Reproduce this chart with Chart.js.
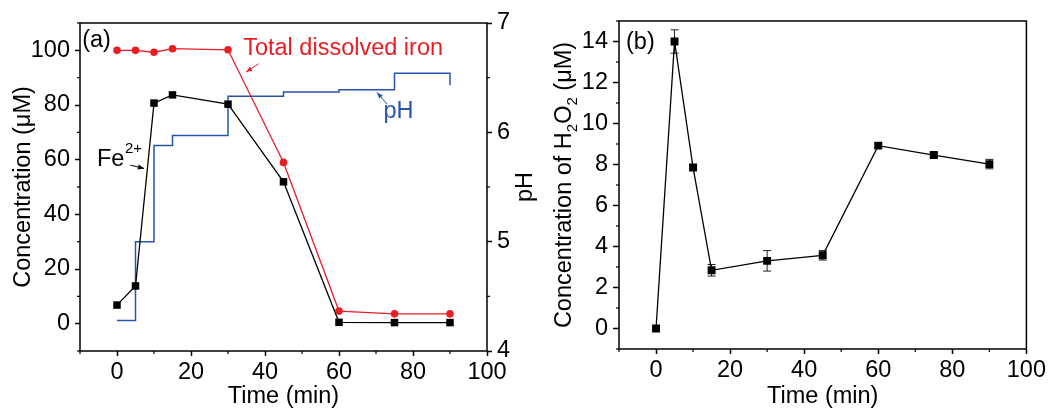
<!DOCTYPE html>
<html><head><meta charset="utf-8">
<script src="https://cdn.jsdelivr.net/npm/chart.js@4/dist/chart.umd.min.js"></script>
<style>
html,body{margin:0;padding:0;background:#fff;}
#wrap{position:relative;width:1048px;height:408px;overflow:hidden;}
#c1{position:absolute;left:0;top:0;}
#c2{position:absolute;left:540px;top:0;}
</style></head><body>
<div id="wrap"><canvas id="c1" width="540" height="408"></canvas><canvas id="c2" width="508" height="408"></canvas></div>
<script>
const FONT = '"Liberation Sans", Arial, sans-serif';
const FS = 23.5;

// ---- data ----
const times = [0, 5, 10, 15, 30, 45, 60, 75, 90];
const fe2 = [6.8, 13.8, 80.7, 83.7, 80.3, 51.9, 0.5, 0.4, 0.4];
const totalFe = [100, 100, 99.3, 100.6, 100.2, 59.0, 4.6, 3.6, 3.6];
const pH = [4.28, 5.0, 5.88, 5.97, 6.33, 6.37, 6.39, 6.54, 6.43];
const h2o2 = [0, 14.0, 7.85, 2.84, 3.3, 3.57, 8.92, 8.46, 8.02];
const h2o2Err = [0.05, 0.57, 0.12, 0.28, 0.5, 0.23, 0.1, 0.1, 0.23];

// ---- tick values ----
const xTicks = [0, 20, 40, 60, 80, 100];
const xMinor = [-10, 10, 30, 50, 70, 90];
const concTicks = [0, 20, 40, 60, 80, 100];
const concMinor = [-10, 10, 30, 50, 70, 90, 110];
const pHTicks = [4, 5, 6, 7];
const pHMinor = [4.5, 5.5, 6.5];
const h2o2Ticks = [0, 2, 4, 6, 8, 10, 12, 14];
const h2o2Minor = [-1, 1, 3, 5, 7, 9, 11, 13, 15];

const RED = 'rgb(232,30,36)';
const BLUE = 'rgb(40,84,172)';

function pts(xs, ys) { return xs.map((x, i) => ({x: x, y: ys[i]})); }
function setTicks(arr) { return s => { s.ticks = arr.map(v => ({value: v})); }; }

function axisX(title, pad) {
  return {
    type: 'linear', min: -10, max: 100, bounds: 'data',
    afterBuildTicks: setTicks(xTicks),
    afterFit: s => { s.height = pad; },
    ticks: {font: {family: FONT, size: FS}, color: '#000', padding: 2, maxRotation: 0, autoSkip: false},
    grid: {drawOnChartArea: false, drawTicks: true, tickLength: 5, tickColor: '#000', tickWidth: 1.5},
    border: {display: false},
    title: {display: true, text: title, color: '#000', font: {family: FONT, size: FS, lineHeight: 1}, padding: {top: 0, bottom: 0}}
  };
}

// frame + minor ticks
const framePlugin = {
  id: 'frame',
  afterDraw(chart, args, opts) {
    const ctx = chart.ctx, a = chart.chartArea;
    ctx.save();
    ctx.strokeStyle = '#000';
    ctx.lineWidth = 1.5;
    ctx.strokeRect(a.left, a.top, a.right - a.left, a.bottom - a.top);
    ctx.lineWidth = 1.2;
    const minor = opts.minor || {};
    Object.keys(minor).forEach(id => {
      const s = chart.scales[id];
      minor[id].forEach(v => {
        const p = s.getPixelForValue(v);
        ctx.beginPath();
        if (s.isHorizontal()) { ctx.moveTo(p, a.bottom); ctx.lineTo(p, a.bottom + 3); }
        else if (s.position === 'left') { ctx.moveTo(a.left, p); ctx.lineTo(a.left - 3, p); }
        else { ctx.moveTo(a.right, p); ctx.lineTo(a.right + 3, p); }
        ctx.stroke();
      });
    });
    ctx.restore();
  }
};

function arrow(ctx, x1, y1, x2, y2, color) {
  ctx.save();
  ctx.strokeStyle = color; ctx.fillStyle = color; ctx.lineWidth = 1;
  ctx.beginPath(); ctx.moveTo(x1, y1); ctx.lineTo(x2, y2); ctx.stroke();
  const ang = Math.atan2(y2 - y1, x2 - x1), L = 6, W = 2.5;
  ctx.beginPath();
  ctx.moveTo(x2, y2);
  ctx.lineTo(x2 - L * Math.cos(ang) + W * Math.sin(ang), y2 - L * Math.sin(ang) - W * Math.cos(ang));
  ctx.lineTo(x2 - L * Math.cos(ang) - W * Math.sin(ang), y2 - L * Math.sin(ang) + W * Math.cos(ang));
  ctx.closePath(); ctx.fill();
  ctx.restore();
}

const annotPlugin1 = {
  id: 'annot1',
  afterDraw(chart) {
    const ctx = chart.ctx, X = chart.scales.x, Y = chart.scales.y, Y1 = chart.scales.y1;
    const px = v => X.getPixelForValue(v), py = v => Y.getPixelForValue(v);
    ctx.save();
    ctx.textBaseline = 'middle'; ctx.textAlign = 'left';
    ctx.font = FS + 'px ' + FONT;
    ctx.fillStyle = '#000';
    ctx.fillText('(a)', px(-9.4), py(103.5));
    ctx.fillStyle = RED;
    ctx.fillText('Total dissolved iron', px(34.1), py(100.5));
    arrow(ctx, px(38.3), py(95.1), px(34.9), py(92.1), RED);
    ctx.fillStyle = BLUE;
    ctx.fillText('pH', px(72.0), py(77.7));
    arrow(ctx, px(73.0), py(80.3), px(70.3), py(84.6), BLUE);
    ctx.fillStyle = '#000';
    ctx.fillText('Fe', px(-5.4), py(60.2));
    const w = ctx.measureText('Fe').width;
    ctx.font = '15px ' + FONT;
    ctx.fillText('2+', px(-5.4) + w + 0.5, py(60.2) - 10);
    arrow(ctx, px(3.6), py(58.0), px(7.3), py(56.8), '#000');
    // right axis title (reads bottom to top)
    ctx.font = FS + 'px ' + FONT;
    ctx.textAlign = 'center';
    ctx.translate(chart.chartArea.right + 39, (chart.chartArea.top + chart.chartArea.bottom) / 2);
    ctx.rotate(-Math.PI / 2);
    ctx.fillText('pH', 0, 0);
    ctx.restore();
  }
};

const errPlugin = {
  id: 'errbars',
  beforeDatasetsDraw(chart) {
    const ctx = chart.ctx, X = chart.scales.x, Y = chart.scales.y;
    ctx.save();
    ctx.strokeStyle = '#222'; ctx.lineWidth = 1;
    times.forEach((t, i) => {
      const x = X.getPixelForValue(t);
      const y1 = Y.getPixelForValue(h2o2[i] + h2o2Err[i]);
      const y2 = Y.getPixelForValue(h2o2[i] - h2o2Err[i]);
      ctx.beginPath();
      ctx.moveTo(x, y1); ctx.lineTo(x, y2);
      ctx.moveTo(x - 4, y1); ctx.lineTo(x + 4, y1);
      ctx.moveTo(x - 4, y2); ctx.lineTo(x + 4, y2);
      ctx.stroke();
    });
    ctx.restore();
  }
};

const annotPlugin2 = {
  id: 'annot2',
  afterDraw(chart) {
    const ctx = chart.ctx, X = chart.scales.x, Y = chart.scales.y, a = chart.chartArea;
    ctx.save();
    ctx.fillStyle = '#000';
    ctx.textBaseline = 'middle'; ctx.textAlign = 'left';
    ctx.font = FS + 'px ' + FONT;
    ctx.fillText('(b)', X.getPixelForValue(-8.1), Y.getPixelForValue(13.93));
    // y title with subscripts
    const parts = [['Concentration of H', false], ['2', true], ['O', false], ['2', true], [' (μM)', false]];
    const big = FS + 'px ' + FONT, small = '15px ' + FONT;
    let total = 0;
    parts.forEach(p => { ctx.font = p[1] ? small : big; total += ctx.measureText(p[0]).width; });
    ctx.translate(31, (a.top + a.bottom) / 2);
    ctx.rotate(-Math.PI / 2);
    ctx.textBaseline = 'alphabetic';
    let x = -total / 2;
    parts.forEach(p => {
      ctx.font = p[1] ? small : big;
      ctx.fillText(p[0], x, p[1] ? 6 : 0);
      x += ctx.measureText(p[0]).width;
    });
    ctx.restore();
  }
};

Chart.defaults.animation = false;
Chart.defaults.devicePixelRatio = 1;

new Chart(document.getElementById('c1'), {
  type: 'line',
  data: {
    datasets: [
      {label: 'pH', data: pts(times, pH), yAxisID: 'y1', stepped: 'before', borderColor: BLUE, borderWidth: 1.5, pointRadius: 0, fill: false, order: 3},
      {label: 'Fe2+', data: pts(times, fe2), yAxisID: 'y', borderColor: '#000', backgroundColor: '#000', borderWidth: 1.3, pointStyle: 'rect', pointRadius: 5.3, pointBorderWidth: 0, fill: false, order: 2},
      {label: 'Total dissolved iron', data: pts(times, totalFe), yAxisID: 'y', borderColor: RED, backgroundColor: RED, borderWidth: 1.3, pointStyle: 'circle', pointRadius: 3.8, pointBorderWidth: 0, fill: false, order: 1}
    ]
  },
  options: {
    responsive: false, animation: false,
    layout: {padding: {top: 23, left: 0, right: 0, bottom: 0}},
    plugins: {legend: {display: false}, tooltip: {enabled: false}, frame: {minor: {x: xMinor, y: concMinor, y1: pHMinor}}},
    scales: {
      x: axisX('Time (min)', 57),
      y: {
        type: 'linear', position: 'left', min: -10, max: 110, bounds: 'data',
        afterBuildTicks: setTicks(concTicks),
        afterFit: s => { s.width = 80; },
        ticks: {font: {family: FONT, size: FS}, color: '#000', padding: 5},
        grid: {drawOnChartArea: false, drawTicks: true, tickLength: 5, tickColor: '#000', tickWidth: 1.5},
        border: {display: false},
        title: {display: true, text: 'Concentration (μM)', color: '#000', font: {family: FONT, size: FS, lineHeight: 1}, padding: {top: 12, bottom: 0}}
      },
      y1: {
        type: 'linear', position: 'right', min: 4, max: 7, bounds: 'data',
        afterBuildTicks: setTicks(pHTicks),
        afterFit: s => { s.width = 53; },
        ticks: {font: {family: FONT, size: FS}, color: '#000', padding: 5},
        grid: {drawOnChartArea: false, drawTicks: true, tickLength: 5, tickColor: '#000', tickWidth: 1.5},
        border: {display: false},
        title: {display: false}
      }
    }
  },
  plugins: [framePlugin, annotPlugin1]
});

new Chart(document.getElementById('c2'), {
  type: 'line',
  data: {
    datasets: [
      {label: 'H2O2', data: pts(times, h2o2), borderColor: '#000', backgroundColor: '#000', borderWidth: 1.3, pointStyle: 'rect', pointRadius: 5.6, pointBorderWidth: 0, fill: false}
    ]
  },
  options: {
    responsive: false, animation: false,
    layout: {padding: {top: 21, left: 0, right: 21, bottom: 0}},
    plugins: {legend: {display: false}, tooltip: {enabled: false}, frame: {minor: {x: xMinor, y: h2o2Minor}}},
    scales: {
      x: axisX('Time (min)', 59),
      y: {
        type: 'linear', position: 'left', min: -1, max: 15, bounds: 'data',
        afterBuildTicks: setTicks(h2o2Ticks),
        afterFit: s => { s.width = 79; },
        ticks: {font: {family: FONT, size: FS}, color: '#000', padding: 5},
        grid: {drawOnChartArea: false, drawTicks: true, tickLength: 6, tickColor: '#000', tickWidth: 1.5},
        border: {display: false},
        title: {display: false}
      }
    }
  },
  plugins: [errPlugin, framePlugin, annotPlugin2]
});
</script>
</body></html>
